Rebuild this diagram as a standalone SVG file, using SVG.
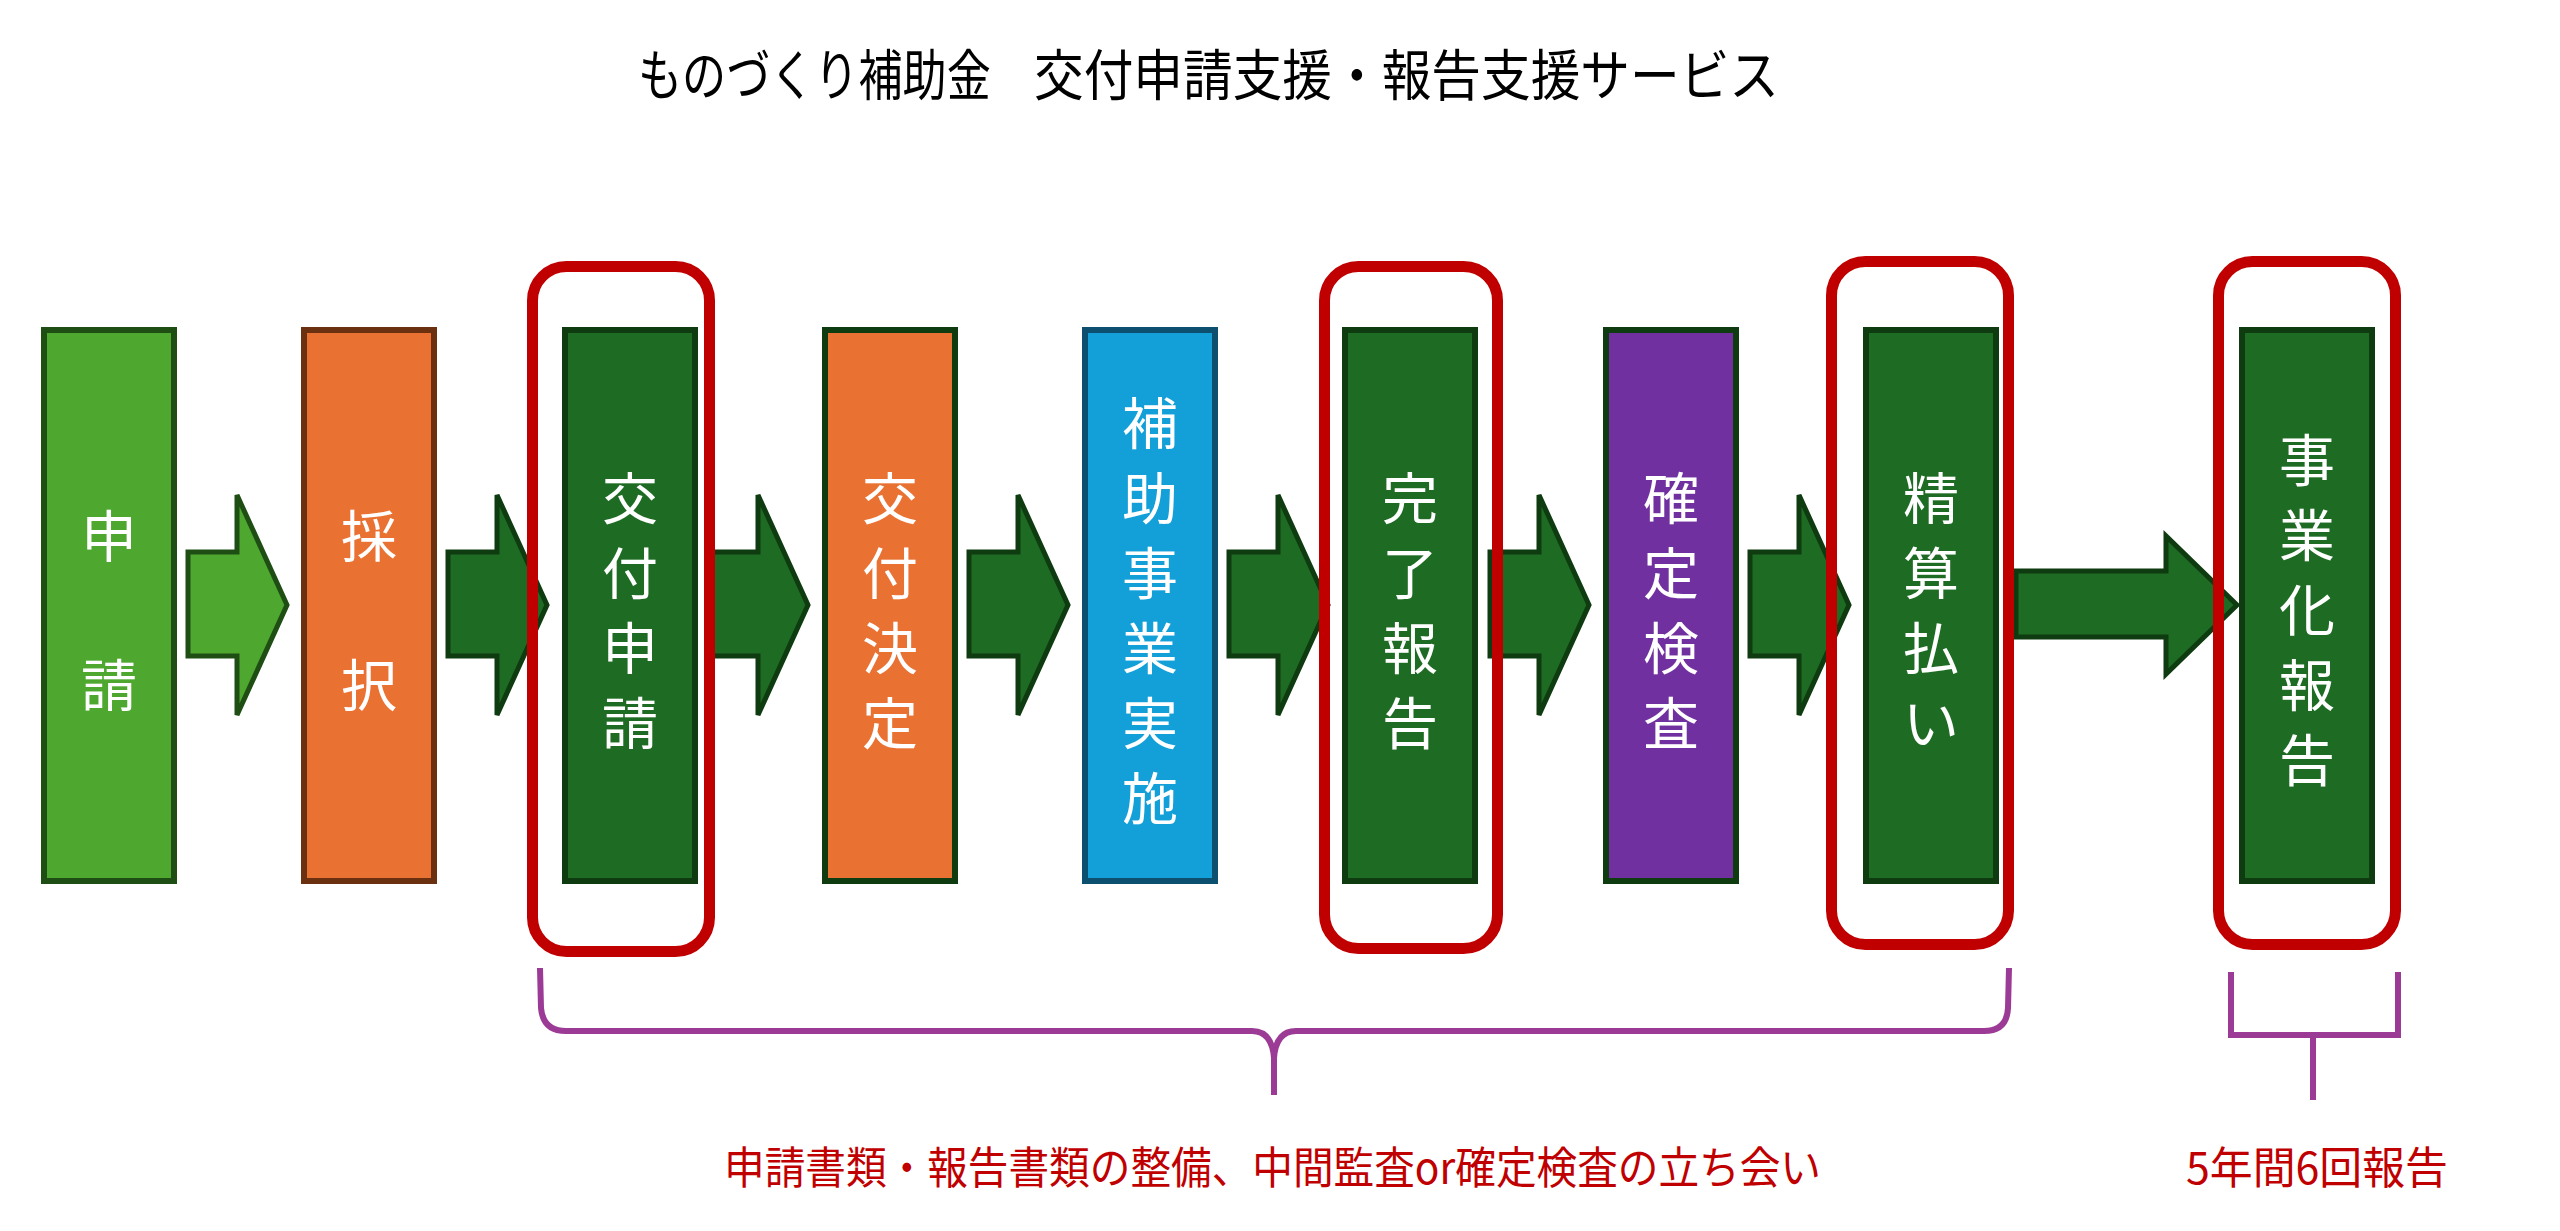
<svg xmlns="http://www.w3.org/2000/svg" width="2560" height="1231" viewBox="0 0 2560 1231">
<style>
.box{stroke-width:6}
.dg{fill:#1E6B24;stroke:#0E3B0F}
.lg{fill:#4EA72E;stroke:#1F4E14}
.or{fill:#E97132;stroke:#6B3010}
.or2{fill:#E97132;stroke:#0E3B0F}
.bl{fill:#139FD8;stroke:#0D4F6E}
.pu{fill:#7030A0;stroke:#0E3B0F}
.lbl{font-family:"Noto Sans CJK JP","Noto Sans",sans-serif;font-size:56px;fill:#FFFFFF;text-anchor:middle;dominant-baseline:central}
.arr{stroke-width:5;stroke-linejoin:miter}
.ad{fill:#1E6B24;stroke:#0E3B0F}
.al{fill:#4EA72E;stroke:#1F4E14}
.hl{fill:none;stroke:#C00000;stroke-width:11}
.br{fill:none;stroke:#9B3B95;stroke-width:6}
.title{font-family:"Noto Sans CJK JP","Noto Sans",sans-serif;font-size:55px;fill:#000000;dominant-baseline:central}
.note{font-family:"Noto Sans CJK JP","Noto Sans",sans-serif;font-size:44px;fill:#C00000;dominant-baseline:central}
</style>

<g id="title">
<text class="title" transform="translate(638,71) scale(0.802,1)" x="0" y="0">ものづくり補助金</text>
<text class="title" x="1034" y="71" textLength="745" lengthAdjust="spacingAndGlyphs">交付申請支援・報告支援サービス</text>
</g>

<g id="connectors">
<polygon class="arr al" points="188,552 237,552 237,495 287,605 237,715 237,656 188,656"/>
<polygon class="arr ad" points="448,552 497,552 497,495 547,605 497,715 497,656 448,656"/>
<polygon class="arr ad" points="709,552 758,552 758,495 808,605 758,715 758,656 709,656"/>
<polygon class="arr ad" points="969,552 1018,552 1018,495 1068,605 1018,715 1018,656 969,656"/>
<polygon class="arr ad" points="1229,552 1278,552 1278,495 1328,605 1278,715 1278,656 1229,656"/>
<polygon class="arr ad" points="1490,552 1539,552 1539,495 1589,605 1539,715 1539,656 1490,656"/>
<polygon class="arr ad" points="1750,552 1799,552 1799,495 1849,605 1799,715 1799,656 1750,656"/>
<polygon class="arr ad" points="2016,571 2166,571 2166,536 2237,605 2166,674 2166,637 2016,637"/>
</g>

<g id="node-shinsei">
<rect class="box lg" x="44" y="330" width="130" height="551"/>
<text class="lbl"><tspan x="109" y="532">申</tspan><tspan x="109" y="681">請</tspan></text>
</g>
<g id="node-saitaku">
<rect class="box or" x="304" y="330" width="130" height="551"/>
<text class="lbl"><tspan x="369" y="532">採</tspan><tspan x="369" y="681">択</tspan></text>
</g>
<g id="node-koufu-shinsei">
<rect class="box dg" x="565" y="330" width="130" height="551"/>
<text class="lbl"><tspan x="630" y="494">交</tspan><tspan x="630" y="569">付</tspan><tspan x="630" y="644">申</tspan><tspan x="630" y="719">請</tspan></text>
</g>
<g id="node-koufu-kettei">
<rect class="box or2" x="825" y="330" width="130" height="551"/>
<text class="lbl"><tspan x="890" y="494">交</tspan><tspan x="890" y="569">付</tspan><tspan x="890" y="644">決</tspan><tspan x="890" y="719">定</tspan></text>
</g>
<g id="node-jigyou-jisshi">
<rect class="box bl" x="1085" y="330" width="130" height="551"/>
<text class="lbl"><tspan x="1150" y="419">補</tspan><tspan x="1150" y="494">助</tspan><tspan x="1150" y="569">事</tspan><tspan x="1150" y="644">業</tspan><tspan x="1150" y="719">実</tspan><tspan x="1150" y="794">施</tspan></text>
</g>
<g id="node-kanryou-houkoku">
<rect class="box dg" x="1345" y="330" width="130" height="551"/>
<text class="lbl"><tspan x="1410" y="494">完</tspan><tspan x="1410" y="569">了</tspan><tspan x="1410" y="644">報</tspan><tspan x="1410" y="719">告</tspan></text>
</g>
<g id="node-kakutei-kensa">
<rect class="box pu" x="1606" y="330" width="130" height="551"/>
<text class="lbl"><tspan x="1671" y="494">確</tspan><tspan x="1671" y="569">定</tspan><tspan x="1671" y="644">検</tspan><tspan x="1671" y="719">査</tspan></text>
</g>
<g id="node-seisan">
<rect class="box dg" x="1866" y="330" width="130" height="551"/>
<text class="lbl"><tspan x="1931" y="494">精</tspan><tspan x="1931" y="569">算</tspan><tspan x="1931" y="644">払</tspan><tspan x="1931" y="719">い</tspan></text>
</g>
<g id="node-jigyouka-houkoku">
<rect class="box dg" x="2242" y="330" width="130" height="551"/>
<text class="lbl"><tspan x="2307" y="456">事</tspan><tspan x="2307" y="531">業</tspan><tspan x="2307" y="606">化</tspan><tspan x="2307" y="681">報</tspan><tspan x="2307" y="756">告</tspan></text>
</g>

<g id="highlights">
<rect class="hl" x="532.5" y="266.5" width="177" height="685" rx="34"/>
<rect class="hl" x="1324.5" y="266.5" width="173" height="682" rx="34"/>
<rect class="hl" x="1831.5" y="261.5" width="177" height="683" rx="34"/>
<rect class="hl" x="2218.5" y="261.5" width="177" height="683" rx="34"/>
</g>

<g id="brace-support">
<path class="br" d="M540,968 L541,1008 Q543,1031 566,1031 L1252,1031 Q1272,1031 1274,1058 L1274,1095 M1274,1058 Q1276,1031 1296,1031 L1984,1031 Q2007,1031 2008,1008 L2009,968"/>
<text class="note" x="724" y="1165" textLength="1097" lengthAdjust="spacingAndGlyphs">申請書類・報告書類の整備、中間監査or確定検査の立ち会い</text>
</g>
<g id="bracket-report">
<path class="br" d="M2231,972 L2231,1035 L2398,1035 L2398,972 M2313,1035 L2313,1100"/>
<text class="note" x="2186" y="1165" textLength="262" lengthAdjust="spacingAndGlyphs">5年間6回報告</text>
</g>
</svg>
